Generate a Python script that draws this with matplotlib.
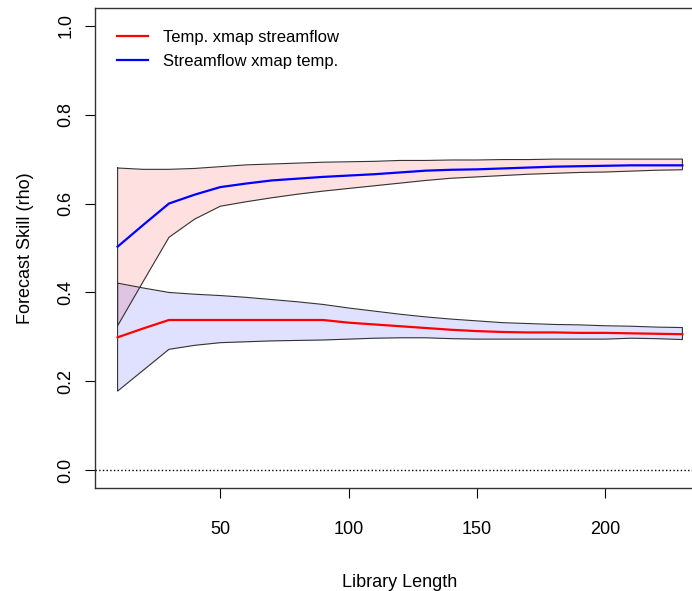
import numpy as np
import matplotlib.pyplot as plt

lib_len = [10, 20, 30, 40, 50, 60, 70, 80, 90, 100, 110, 120,
           130, 140, 150, 160, 170, 180, 190, 200, 210, 220, 230]

# Temp. xmap streamflow (red line, lavender band)
temp_mean = [0.299, 0.319, 0.338, 0.338, 0.338, 0.338, 0.338, 0.338, 0.338, 0.332, 0.328, 0.324,
             0.320, 0.316, 0.313, 0.311, 0.310, 0.310, 0.309, 0.309, 0.308, 0.307, 0.306]
temp_hi = [0.421, 0.410, 0.400, 0.396, 0.393, 0.389, 0.384, 0.379, 0.373, 0.365, 0.358, 0.351,
           0.345, 0.340, 0.336, 0.332, 0.330, 0.328, 0.327, 0.325, 0.324, 0.322, 0.321]
temp_lo = [0.178, 0.225, 0.272, 0.281, 0.287, 0.289, 0.291, 0.292, 0.293, 0.295, 0.297, 0.298,
           0.298, 0.296, 0.295, 0.295, 0.295, 0.295, 0.295, 0.295, 0.297, 0.296, 0.294]

# Streamflow xmap temp. (blue line, pink band)
flow_mean = [0.503, 0.552, 0.600, 0.620, 0.637, 0.645, 0.652, 0.656, 0.660, 0.663, 0.666, 0.670,
             0.674, 0.676, 0.677, 0.679, 0.681, 0.683, 0.684, 0.685, 0.686, 0.686, 0.686]
flow_hi = [0.680, 0.677, 0.677, 0.679, 0.683, 0.687, 0.689, 0.691, 0.693, 0.694, 0.695, 0.697,
           0.697, 0.698, 0.698, 0.699, 0.699, 0.700, 0.700, 0.700, 0.700, 0.700, 0.700]
flow_lo = [0.325, 0.425, 0.524, 0.565, 0.594, 0.604, 0.613, 0.621, 0.628, 0.634, 0.640, 0.646,
           0.652, 0.657, 0.660, 0.663, 0.666, 0.668, 0.670, 0.671, 0.673, 0.675, 0.676]

plt.rcParams['font.family'] = ['Liberation Sans', 'DejaVu Sans']

fig = plt.figure(figsize=(6.92, 5.91), dpi=100)
ax = fig.add_axes([95 / 692, 103 / 591, 610 / 692, 480 / 591])

ax.fill_between(lib_len, flow_lo, flow_hi, color=(1, 0, 0, 0.12), lw=0)
ax.fill_between(lib_len, temp_lo, temp_hi, color=(0, 0, 1, 0.12), lw=0)

# band outlines (polygon border like R's polygon())
for lo, hi in [(flow_lo, flow_hi), (temp_lo, temp_hi)]:
    xs = lib_len + lib_len[::-1] + [lib_len[0]]
    ys = hi + lo[::-1] + [hi[0]]
    ax.plot(xs, ys, color='#333333', lw=0.8)

ax.plot(lib_len, temp_mean, color='red', lw=1.6, label='Temp. xmap streamflow')
ax.plot(lib_len, flow_mean, color='blue', lw=1.6, label='Streamflow xmap temp.')
ax.axhline(0, color='black', ls=':', lw=1)

ax.set_xlim(1.2, 238.8)
ax.set_ylim(-0.04, 1.04)
ax.set_xticks([50, 100, 150, 200])
ax.set_yticks([0.0, 0.2, 0.4, 0.6, 0.8, 1.0])
ax.set_yticklabels(['0.0', '0.2', '0.4', '0.6', '0.8', '1.0'], rotation=90, va='center')
ax.tick_params(direction='out', length=7, width=0.8, labelsize=13, pad=8)
ax.tick_params(axis='x', pad=17)
for s in ax.spines.values():
    s.set_color('#333333')
    s.set_linewidth(1)

ax.set_xlabel('Library Length', fontsize=13, labelpad=26)
ax.set_ylabel('Forecast Skill (rho)', fontsize=13, labelpad=17)

ax.legend(loc='upper left', frameon=False, fontsize=12, handlelength=1.9,
          handletextpad=0.9, borderaxespad=0.9, labelspacing=0.55)

fig.savefig('out.png', dpi=100)
